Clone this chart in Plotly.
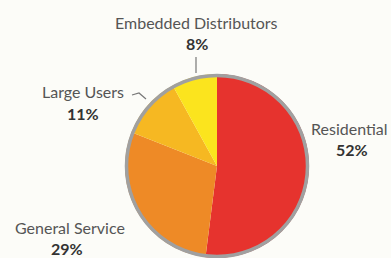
import plotly.graph_objects as go

categories = ["Residential", "General Service", "Large Users", "Embedded Distributors"]
values = [52, 29, 11, 8]
colors = ["#E6332E", "#EE8A26", "#F6B822", "#FBE41E"]

W, H = 391, 258
cx, cy_top, r = 217, 166, 92
cy = H - cy_top


def px(x):
    return x / W


def py(y):
    return 1 - y / H


fig = go.Figure(go.Pie(
    labels=categories, values=values, sort=False, direction="clockwise",
    rotation=0, textinfo="none", hoverinfo="label+percent",
    marker=dict(colors=colors, line=dict(width=0)),
    domain=dict(x=[(cx - r) / W, (cx + r) / W], y=[max(0, (cy - r) / H), (cy + r) / H]),
    showlegend=False,
))

rr = r - 1.5
fig.add_shape(type="circle", xref="paper", yref="paper",
              x0=(cx - rr) / W, x1=(cx + rr) / W, y0=(cy - rr) / H, y1=(cy + rr) / H,
              line=dict(color="#A0A0A0", width=3.5))

# leader lines
fig.add_shape(type="line", xref="paper", yref="paper",
              x0=px(196), x1=px(196), y0=py(57), y1=py(73),
              line=dict(color="#777777", width=1.2))
fig.add_shape(type="path", xref="paper", yref="paper",
              path=f"M {px(132)},{py(95)} L {px(139)},{py(93)} L {px(146)},{py(99)}",
              line=dict(color="#777777", width=1.2))

font = "Lato, 'Open Sans', sans-serif"
labels_pos = [
    ("Embedded Distributors", "8%", 196, 197, 22, 44, "center"),
    ("Large Users", "11%", 83, 83, 92, 113, "center"),
    ("Residential", "52%", 390, 352, 128, 149, "right"),
    ("General Service", "29%", 70, 67, 227, 248, "center"),
]
for name, pct, x1, x2, y1, y2, anc in labels_pos:
    fig.add_annotation(x=px(x1), y=py(y1), xref="paper", yref="paper",
                       text=name, showarrow=False, xanchor=anc, yanchor="middle",
                       font=dict(family=font, size=16, color="#555555"))
    fig.add_annotation(x=px(x2), y=py(y2), xref="paper", yref="paper",
                       text=f"<b>{pct}</b>", showarrow=False, xanchor="center", yanchor="middle",
                       font=dict(family=font, size=16, color="#333333"))

fig.update_layout(width=W, height=H, margin=dict(l=0, r=0, t=0, b=0),
                  paper_bgcolor="#FCFCF8", plot_bgcolor="#FCFCF8")
fig.write_html("out.html", config={"displayModeBar": False},
               post_script="document.body.style.margin='0';document.body.style.overflow='hidden';")
